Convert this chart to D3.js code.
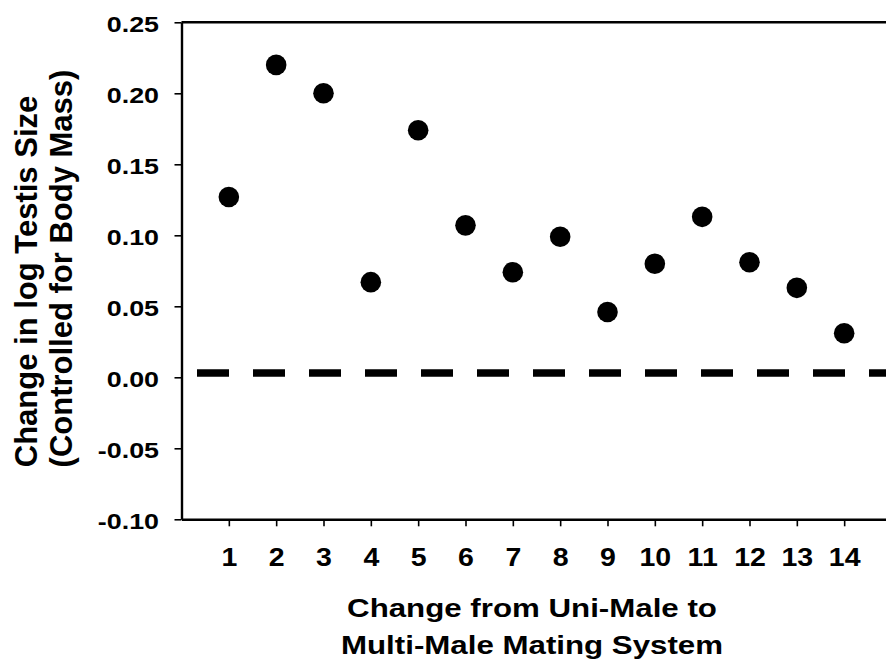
<!DOCTYPE html>
<html>
<head>
<meta charset="utf-8">
<script src="https://cdn.jsdelivr.net/npm/d3@7"></script>
<style>
  html, body { margin: 0; padding: 0; background: #fff; }
  svg { display: block; }
  text { font-family: "Liberation Sans", Arial, Helvetica, sans-serif; font-weight: bold; fill: #000; }
</style>
</head>
<body>
<svg id="chart" width="886" height="667"></svg>
<script>
// ---- data ----
const categories = [1, 2, 3, 4, 5, 6, 7, 8, 9, 10, 11, 12, 13, 14];
const values = [0.127, 0.220, 0.200, 0.067, 0.174, 0.107, 0.074, 0.099, 0.046, 0.080, 0.113, 0.081, 0.063, 0.031];
const referenceValue = 0.003;
const yTicks = [-0.10, -0.05, 0.00, 0.05, 0.10, 0.15, 0.20, 0.25];
const yTickLabels = ["-0.10", "-0.05", "0.00", "0.05", "0.10", "0.15", "0.20", "0.25"];
const xTicks = [1, 2, 3, 4, 5, 6, 7, 8, 9, 10, 11, 12, 13, 14];
const yTitle = ["Change in log Testis Size", "(Controlled for Body Mass)"];
const xTitle = ["Change from Uni-Male to", "Multi-Male Mating System"];

(function () {
// ---- layout ----
const svg = d3.select("#chart");
const mLeft = 181.5, mRight = 891.5, mTop = 22.3, mBottom = 519.3;

const x = d3.scaleLinear().domain([0, 15]).range([mLeft, mRight]);
const y = d3.scaleLinear().domain([-0.10, 0.25]).range([mBottom, mTop]);

// frame top line
svg.append("line")
  .attr("x1", mLeft).attr("x2", mRight)
  .attr("y1", y(0.25)).attr("y2", y(0.25))
  .attr("stroke", "#000").attr("stroke-width", 2.4);
// frame right line (off canvas)
svg.append("line")
  .attr("x1", mRight).attr("x2", mRight)
  .attr("y1", mTop).attr("y2", mBottom)
  .attr("stroke", "#000").attr("stroke-width", 2.4);

// y axis
const yAxis = svg.append("g")
  .attr("transform", `translate(${mLeft},0)`)
  .call(d3.axisLeft(y).tickValues(yTicks)
    .tickFormat((d, i) => yTickLabels[i])
    .tickSize(7).tickSizeOuter(0));
yAxis.attr("font-family", null).attr("font-size", null);
yAxis.select(".domain").attr("stroke", "#000").attr("stroke-width", 2.4);
yAxis.selectAll(".tick line").attr("stroke", "#000").attr("stroke-width", 1.6);
yAxis.selectAll(".tick text")
  .attr("x", null).attr("dy", null)
  .attr("font-size", 22)
  .attr("text-anchor", "end")
  .attr("transform", "translate(-22.5,9.4) scale(1.22,1)");

// x axis
const xAxis = svg.append("g")
  .attr("transform", `translate(0,${mBottom})`)
  .call(d3.axisBottom(x).tickValues(xTicks)
    .tickFormat(d3.format("d"))
    .tickSize(7).tickSizeOuter(0));
xAxis.attr("font-family", null).attr("font-size", null);
xAxis.select(".domain").attr("stroke", "#000").attr("stroke-width", 2.4);
xAxis.selectAll(".tick line").attr("stroke", "#000").attr("stroke-width", 1.6);
xAxis.selectAll(".tick text")
  .attr("y", null).attr("dy", null)
  .attr("font-size", 25)
  .attr("text-anchor", "middle")
  .attr("transform", "translate(0,46.7) scale(1.14,1)");

// dashed reference line
svg.append("line")
  .attr("x1", x(0)).attr("x2", x(15))
  .attr("y1", y(referenceValue)).attr("y2", y(referenceValue))
  .attr("stroke", "#000")
  .attr("stroke-width", 7.6)
  .attr("stroke-dasharray", "32,24")
  .attr("stroke-dashoffset", 40.5);

// points
svg.append("g").selectAll("circle")
  .data(categories.map((c, i) => ({ c, v: values[i] })))
  .join("circle")
  .attr("cx", d => x(d.c))
  .attr("cy", d => y(d.v))
  .attr("r", 10.3)
  .attr("fill", "#000");

// y title
const yTitlePos = [{ bx: 37, cy: 281.5 }, { bx: 72, cy: 268.5 }];
yTitle.forEach((t, i) => {
  svg.append("text")
    .attr("transform", `translate(${yTitlePos[i].bx},${yTitlePos[i].cy}) rotate(-90)`)
    .attr("text-anchor", "middle")
    .attr("font-size", 31)
    .text(t);
});

// x title
const xTitleBase = [617.3, 654];
xTitle.forEach((t, i) => {
  svg.append("text")
    .attr("transform", `translate(532,${xTitleBase[i]}) scale(1.18,1)`)
    .attr("text-anchor", "middle")
    .attr("font-size", 26.5)
    .text(t);
});
})();
</script>
</body>
</html>
